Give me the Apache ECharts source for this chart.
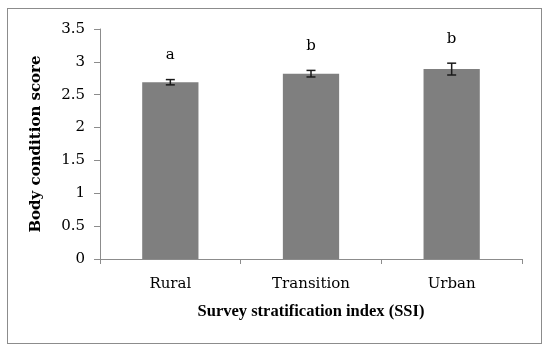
<!DOCTYPE html>
<html><head><meta charset="utf-8">
<script src="https://cdn.jsdelivr.net/npm/echarts@6/dist/echarts.min.js"></script>
<style>html,body{margin:0;padding:0;background:#fff}#frame{position:absolute;left:7px;top:8px;width:535px;height:336px;border:1px solid #8c8c8c;box-sizing:border-box}#c{width:550px;height:354px;position:absolute;left:0;top:0}</style>
</head><body><div id="frame"></div><div id="c"></div>
<script>
const categories = ['Rural', 'Transition', 'Urban'];
const means = [2.69, 2.82, 2.89];
const errors = [0.04, 0.05, 0.09];
const letters = ['a', 'b', 'b'];
const yTicks = { min: 0, max: 3.5, interval: 0.5 };

const FONT = 'DejaVu Serif';
const chart = echarts.init(document.getElementById('c'), null, { renderer: 'canvas' });
chart.setOption({
  animation: false,
  backgroundColor: 'transparent',
  grid: { left: 100, right: 28, top: 29, bottom: 95 },
  xAxis: {
    type: 'category', data: categories,
    name: 'Survey stratification index (SSI)', nameLocation: 'middle', nameGap: 44,
    nameTextStyle: { fontFamily: 'Liberation Serif', fontWeight: 'bold', fontSize: 16.5, color: '#000' },
    axisLine: { lineStyle: { color: '#8c8c8c', width: 1 } },
    axisTick: { show: true, length: 5, lineStyle: { color: '#8c8c8c' } },
    axisLabel: { fontFamily: FONT, fontSize: 15, color: '#000', margin: 18 }
  },
  yAxis: {
    type: 'value', min: yTicks.min, max: yTicks.max, interval: yTicks.interval,
    name: 'Body condition score', nameLocation: 'middle', nameGap: 56,
    nameTextStyle: { fontFamily: FONT, fontWeight: 'bold', fontSize: 15, color: '#000' },
    axisLine: { show: true, lineStyle: { color: '#8c8c8c', width: 1 } },
    axisTick: { show: true, length: 6, lineStyle: { color: '#8c8c8c' } },
    splitLine: { show: false },
    axisLabel: { fontFamily: FONT, fontSize: 15, color: '#000', margin: 15 }
  },
  series: [
    {
      type: 'bar', data: means, barWidth: '40%',
      itemStyle: { color: '#7f7f7f' }
    },
    {
      type: 'custom',
      data: categories.map((c, i) => [i, means[i] - errors[i], means[i] + errors[i], letters[i]]),
      renderItem: function (params, api) {
        const x = api.value(0);
        const lo = api.coord([x, api.value(1)]);
        const hi = api.coord([x, api.value(2)]);
        const hw = 4.5;
        const st = { stroke: '#1a1a1a', lineWidth: 1.5 };
        return {
          type: 'group',
          children: [
            { type: 'line', shape: { x1: lo[0], y1: lo[1], x2: hi[0], y2: hi[1] }, style: st },
            { type: 'line', shape: { x1: lo[0] - hw, y1: lo[1], x2: lo[0] + hw, y2: lo[1] }, style: st },
            { type: 'line', shape: { x1: hi[0] - hw, y1: hi[1], x2: hi[0] + hw, y2: hi[1] }, style: st },
            { type: 'text', style: { text: api.value(3), x: hi[0], y: hi[1] - 24, align: 'center', verticalAlign: 'middle', font: '15px "DejaVu Serif"', fill: '#000' } }
          ]
        };
      },
      z: 3
    }
  ]
});
</script></body></html>
